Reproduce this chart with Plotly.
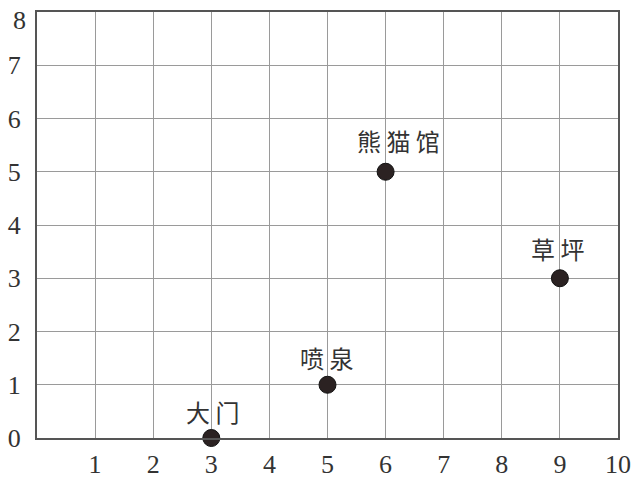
import plotly.graph_objects as go

# Data
place_names = ["大门", "喷泉", "熊猫馆", "草坪"]
place_x = [3, 5, 6, 9]
place_y = [0, 1, 5, 3]
x_tick_vals = [1, 2, 3, 4, 5, 6, 7, 8, 9, 10]
x_tick_text = ["1", "2", "3", "4", "5", "6", "7", "8", "9", "10"]
y_tick_vals = [0, 1, 2, 3, 4, 5, 6, 7, 8]
y_tick_text = ["0", "1", "2", "3", "4", "5", "6", "7", "8"]

# label offsets (style)
label_xshift = [1, -1, 13, -2]
label_yshift = [27, 27, 31, 30]

tick_font = dict(family="Liberation Serif", size=26, color="#333")

fig = go.Figure()
fig.add_trace(go.Scatter(
    x=place_x, y=place_y, mode="markers",
    marker=dict(size=17, color="#2b2222", line=dict(color="#111", width=1)),
    cliponaxis=False, showlegend=False, hoverinfo="skip",
))

for n, xv, yv, xs, ys in zip(place_names, place_x, place_y, label_xshift, label_yshift):
    fig.add_annotation(x=xv, y=yv, xref="x", yref="y", text=" ".join(n), showarrow=False,
                       xshift=xs, yshift=ys,
                       font=dict(family="Noto Sans CJK SC", size=24, color="#333"))

# top y label sits slightly below its gridline (it is at the edge of the picture)
fig.add_annotation(x=0, y=y_tick_vals[-1], xref="paper", yref="y", text=y_tick_text[-1],
                   showarrow=False, xanchor="right", yanchor="middle",
                   xshift=-9, yshift=-8, font=tick_font)

axis_common = dict(showgrid=True, gridcolor="#9a9a9a", gridwidth=1.2,
                   showline=True, linecolor="#555", linewidth=2, mirror=True,
                   zeroline=False, ticks="", ticklen=0, automargin=False,
                   ticklabeloverflow="allow", tickfont=tick_font)
fig.update_xaxes(range=[0, 10], tickvals=x_tick_vals, ticktext=x_tick_text,
                 ticklabelstandoff=2, **axis_common)
fig.update_yaxes(range=[0, 8], tickvals=y_tick_vals[:-1], ticktext=y_tick_text[:-1],
                 ticklabelstandoff=9, **axis_common)

fig.update_layout(width=632, height=479, margin=dict(l=37, r=14, t=12, b=41),
                  plot_bgcolor="white", paper_bgcolor="white")

fig.write_html("out.html", config={"displayModeBar": False},
               post_script="document.body.style.margin='0px';document.body.style.overflow='hidden';")
